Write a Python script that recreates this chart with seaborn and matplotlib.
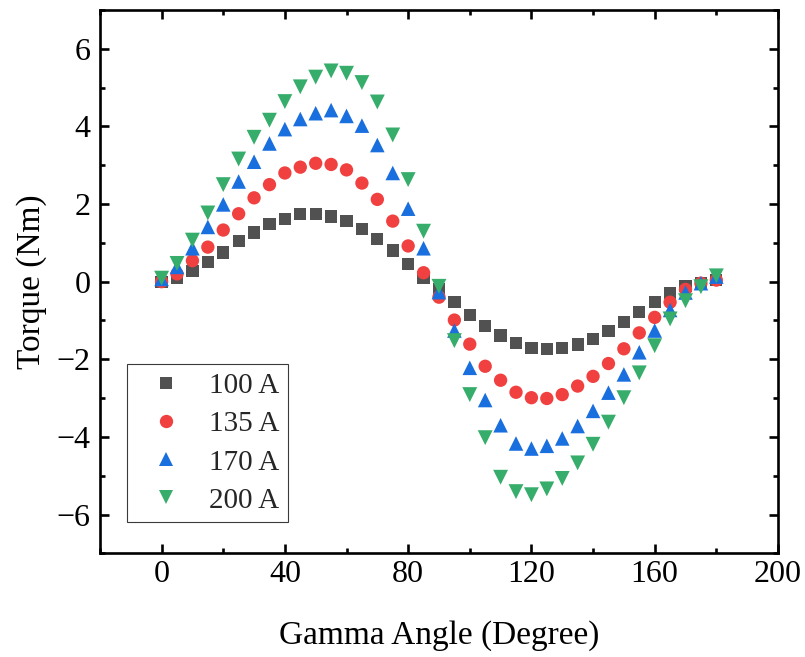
import matplotlib
matplotlib.use("Agg")
import matplotlib.pyplot as plt
from matplotlib.ticker import MultipleLocator
import seaborn as sns
import pandas as pd

# Gamma angle sweep (degrees)
gamma = [0, 5, 10, 15, 20, 25, 30, 35, 40, 45, 50, 55, 60, 65, 70, 75, 80, 85, 90,
         95, 100, 105, 110, 115, 120, 125, 130, 135, 140, 145, 150, 155, 160, 165,
         170, 175, 180]

# Torque (Nm) for each phase current
torque_100 = [0.00, 0.11, 0.28, 0.50, 0.75, 1.04, 1.27, 1.48, 1.62, 1.75, 1.74, 1.68,
              1.56, 1.36, 1.10, 0.80, 0.46, 0.11, -0.20, -0.52, -0.85, -1.15, -1.39,
              -1.58, -1.71, -1.73, -1.71, -1.62, -1.47, -1.28, -1.04, -0.79, -0.53,
              -0.29, -0.11, -0.03, 0.04]
torque_135 = [0.00, 0.20, 0.54, 0.89, 1.33, 1.75, 2.16, 2.50, 2.80, 2.95, 3.05, 3.02,
              2.88, 2.54, 2.12, 1.56, 0.92, 0.23, -0.40, -0.99, -1.61, -2.18, -2.54,
              -2.85, -2.99, -3.01, -2.91, -2.69, -2.44, -2.11, -1.73, -1.32, -0.92,
              -0.53, -0.20, -0.04, 0.04]
torque_170 = [0.07, 0.38, 0.86, 1.41, 1.99, 2.58, 3.09, 3.56, 3.93, 4.19, 4.34, 4.42,
              4.27, 4.02, 3.52, 2.80, 1.88, 0.86, -0.27, -1.26, -2.22, -3.05, -3.70,
              -4.17, -4.30, -4.23, -4.04, -3.72, -3.33, -2.86, -2.39, -1.82, -1.26,
              -0.73, -0.28, -0.04, 0.13]
torque_200 = [0.09, 0.47, 1.07, 1.77, 2.50, 3.16, 3.72, 4.16, 4.64, 5.02, 5.27, 5.43,
              5.37, 5.13, 4.63, 3.78, 2.63, 1.30, -0.12, -1.52, -2.91, -4.02, -5.04,
              -5.41, -5.49, -5.34, -5.07, -4.67, -4.19, -3.62, -2.99, -2.35, -1.65,
              -0.96, -0.49, -0.13, 0.15]

currents = ["100 A", "135 A", "170 A", "200 A"]
series = [torque_100, torque_135, torque_170, torque_200]

colors = ["#515151", "#F14040", "#1A6FDF", "#37AD6B"]
markers = ["s", "o", "^", "v"]
marker_area = [78, 92, 110, 115]

df = pd.concat(
    [pd.DataFrame({"Gamma": gamma, "Torque": t, "Current": c})
     for c, t in zip(currents, series)],
    ignore_index=True,
)

sns.set_theme(style="ticks")
plt.rcParams["font.family"] = ["Liberation Serif", "DejaVu Serif"]

fig = plt.figure(figsize=(8.05, 6.57), dpi=100)
ax = fig.add_axes([0.1242, 0.1578, 0.8422, 0.827])

sns.scatterplot(
    data=df, x="Gamma", y="Torque",
    hue="Current", style="Current", size="Current",
    palette=dict(zip(currents, colors)),
    markers=dict(zip(currents, markers)),
    sizes=dict(zip(currents, marker_area)),
    linewidth=0, alpha=1, ax=ax, legend="full", zorder=3,
)

ax.set_xlim(-20, 200)
ax.set_ylim(-7, 7)
ax.xaxis.set_major_locator(MultipleLocator(40))
ax.xaxis.set_minor_locator(MultipleLocator(20))
ax.yaxis.set_major_locator(MultipleLocator(2))
ax.yaxis.set_minor_locator(MultipleLocator(1))

for sp in ax.spines.values():
    sp.set_visible(True)
    sp.set_linewidth(1.9)
    sp.set_color("black")

ax.tick_params(which="both", direction="in", top=True, right=True,
               width=1.9, color="black", labelsize=23, labelcolor="black")
ax.tick_params(which="major", length=6.5)
ax.tick_params(which="minor", length=3.5)
ax.tick_params(axis="x", which="both", pad=5)
ax.tick_params(axis="y", which="both", pad=7)

ax.set_xlabel("Gamma Angle (Degree)", fontsize=24, labelpad=22, color="black")
ax.set_ylabel("Torque (Nm)", fontsize=24, labelpad=7, color="black")

handles, labels = ax.get_legend_handles_labels()
pairs = [(h, l) for h, l in zip(handles, labels) if l in currents]
leg = ax.legend(
    [p[0] for p in pairs], [p[1] for p in pairs],
    loc="lower left", bbox_to_anchor=(0.040, 0.057), borderaxespad=0,
    frameon=True, fancybox=False, fontsize=21,
    handlelength=2.05, handletextpad=0.45, labelspacing=0.40,
    borderpad=0.30,
)
frame = leg.get_frame()
frame.set_edgecolor("#3a3a3a")
frame.set_linewidth(0.8)
frame.set_facecolor("white")
frame.set_alpha(1)

fig.savefig("out.png", dpi=100)
